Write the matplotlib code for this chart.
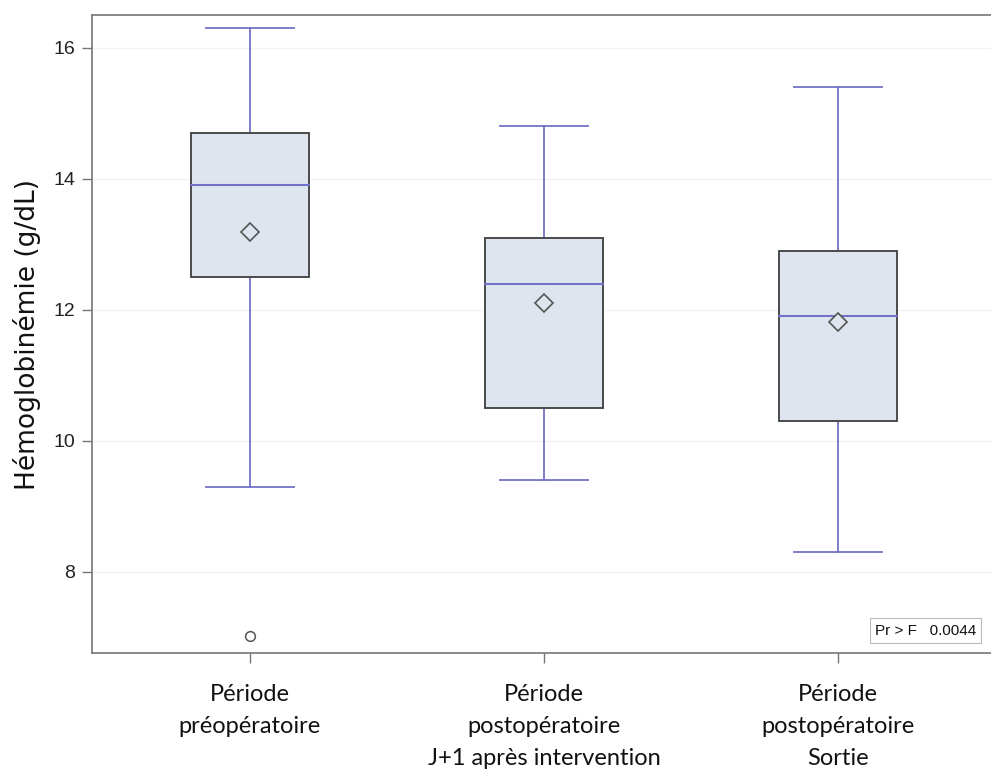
import matplotlib
matplotlib.use("Agg")
import matplotlib.pyplot as plt
from matplotlib.patches import Rectangle

categories = ["Période\npréopératoire",
              "Période\npostopératoire\nJ+1 après intervention",
              "Période\npostopératoire\nSortie"]
whisker_low = [9.3, 9.4, 8.3]
q1 = [12.5, 10.5, 10.3]
median = [13.9, 12.4, 11.9]
q3 = [14.7, 13.1, 12.9]
whisker_high = [16.3, 14.8, 15.4]
mean = [13.18, 12.11, 11.82]
outliers = [[7.02], [], []]
y_ticks = [8, 10, 12, 14, 16]

W, H = 991, 772
fig = plt.figure(figsize=(W / 100, H / 100), dpi=100)
ax = fig.add_axes([92 / W, 1 - 653 / H, (996 - 92) / W, (653 - 15) / H])

box_fill = "#dfe5ef"
box_edge = "#4a4a4a"
line_blue = "#7272c8"
bw = 0.4
cap = 0.3

for i in range(len(categories)):
    ax.plot([i, i], [whisker_low[i], q1[i]], color=line_blue, lw=1.3, zorder=2)
    ax.plot([i, i], [q3[i], whisker_high[i]], color=line_blue, lw=1.3, zorder=2)
    ax.plot([i - cap / 2, i + cap / 2], [whisker_low[i]] * 2, color=line_blue, lw=1.3, zorder=2)
    ax.plot([i - cap / 2, i + cap / 2], [whisker_high[i]] * 2, color=line_blue, lw=1.3, zorder=2)
    ax.add_patch(Rectangle((i - bw / 2, q1[i]), bw, q3[i] - q1[i],
                           facecolor=box_fill, edgecolor=box_edge, lw=1.4, zorder=3))
    ax.plot([i - bw / 2, i + bw / 2], [median[i]] * 2, color=line_blue, lw=1.5, zorder=4)
    ax.plot(i, mean[i], marker="D", ms=9, mfc=box_fill, mec="#555555", mew=1.2, zorder=5)
    for o in outliers[i]:
        ax.plot(i, o, marker="o", ms=7, mfc="white", mec="#555555", mew=1.1, zorder=5)

ax.set_xlim(-0.537, 2.537)
ax.set_ylim(6.76, 16.5)
ax.set_yticks(y_ticks)
ax.set_yticklabels([str(t) for t in y_ticks], family="Liberation Sans", fontsize=14, color="#222222")
ax.set_xticks(range(len(categories)))
ax.set_xticklabels(categories, family="Lato", fontsize=17, color="#111111", linespacing=1.66)
ax.grid(axis="y", color="#f2f2f2", lw=1.0, zorder=0)
ax.set_axisbelow(True)

for s in ax.spines.values():
    s.set_color("#777777")
    s.set_linewidth(1.2)
ax.tick_params(axis="both", color="#777777", length=7, width=1.0)
ax.tick_params(axis="x", pad=15)
ax.tick_params(axis="y", pad=5)

ax.set_ylabel("Hémoglobinémie (g/dL)", family="DejaVu Sans", fontsize=19, color="#111111", labelpad=9)

ax.text(0.978, 0.024, "Pr > F   0.0044", transform=ax.transAxes, ha="right", va="bottom",
        family="Liberation Sans", fontsize=11, color="#111111",
        bbox=dict(boxstyle="square,pad=0.35", facecolor="white", edgecolor="#bbbbbb", lw=0.8))

fig.savefig("out.png", dpi=100, facecolor="white")
